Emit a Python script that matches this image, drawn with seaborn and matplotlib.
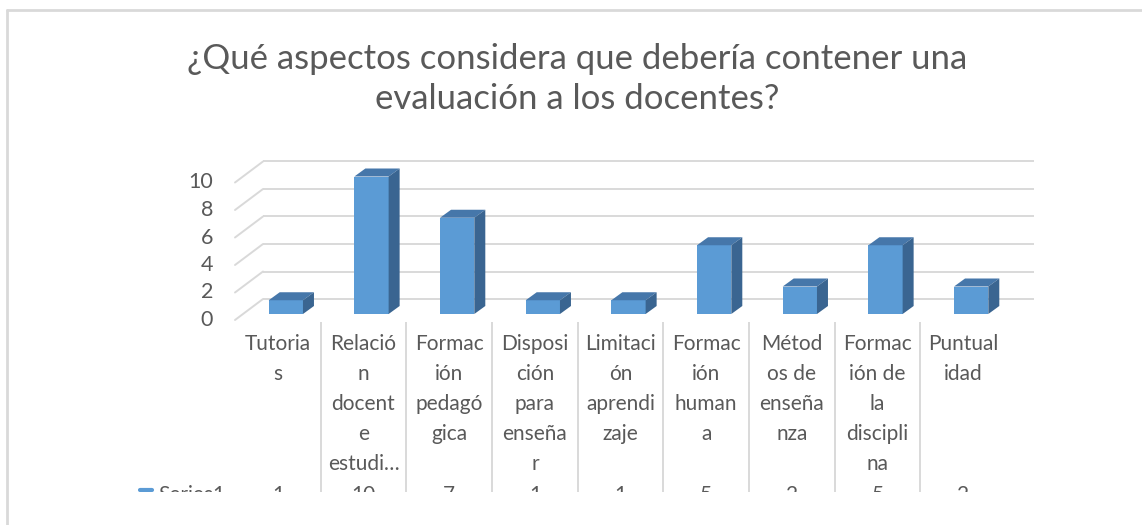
import matplotlib
matplotlib.use("Agg")
import matplotlib.pyplot as plt
from matplotlib.patches import Polygon, Rectangle
from matplotlib.lines import Line2D
import seaborn as sns
import pandas as pd

# ---- data ----
categories = ["Tutorias", "Relación docente estudiante", "Formación pedagógica",
              "Disposición para enseñar", "Limitación aprendizaje", "Formación humana",
              "Métodos de enseñanza", "Formación de la disciplina", "Puntualidad"]
tick_labels = ["Tutoria\ns", "Relació\nn\ndocent\ne\nestudi…", "Formac\nión\npedagó\ngica",
               "Disposi\nción\npara\nenseña\nr", "Limitaci\nón\naprendi\nzaje",
               "Formac\nión\nhuman\na", "Métod\nos de\nenseña\nnza",
               "Formac\nión de\nla\ndiscipli\nna", "Puntual\nidad"]
values = [1, 10, 7, 1, 1, 5, 2, 5, 2]
y_ticks = [0, 2, 4, 6, 8, 10]
series_name = "Series1"
title = "¿Qué aspectos considera que debería contener una\nevaluación a los docentes?"

W, H = 1142, 525
FRONT = "#5B9BD5"
TOP = "#4677AA"
SIDE = "#3A6591"
GRID = "#D9D9D9"
TXT = "#595959"
FONT = "Lato"

sns.set_theme(style="white")
plt.rcParams['font.family'] = [FONT, 'DejaVu Sans']

fig = plt.figure(figsize=(W / 100, H / 100), dpi=100)
fig.patch.set_facecolor("white")

def fx(px):
    return px / W

def fy(py):
    return 1 - py / H

# bar plane axes
ax_left, ax_right, ax_base, ax_top = 243, 1014, 314, 176.5
ax = fig.add_axes([fx(ax_left), fy(ax_base), (ax_right - ax_left) / W, (ax_base - ax_top) / H])
df = pd.DataFrame({"cat": categories, "val": values})
sns.barplot(data=df, x="cat", y="val", color=FRONT, saturation=1, width=0.4, ax=ax, zorder=3)
ax.set_xlim(-0.5, len(categories) - 0.5)
ax.set_ylim(0, max(y_ticks))
ax.axis("off")

pxx = (ax_right - ax_left) / len(categories)      # pixels per x unit
pxy = (ax_base - ax_top) / max(y_ticks)            # pixels per y unit

# 3D faces
dx, dy = 11 / pxx, 8 / pxy
for p in list(ax.patches):
    x0, w, h = p.get_x(), p.get_width(), p.get_height()
    x1 = x0 + w
    p.set_edgecolor("none")
    ax.add_patch(Polygon([(x0, h), (x1, h), (x1 + dx, h + dy), (x0 + dx, h + dy)],
                         closed=True, facecolor=TOP, edgecolor="none", zorder=3, clip_on=False))
    ax.add_patch(Polygon([(x1, 0), (x1, h), (x1 + dx, h + dy), (x1 + dx, dy)],
                         closed=True, facecolor=SIDE, edgecolor="none", zorder=3, clip_on=False))

# back wall grid + floor diagonals
back_dx, back_dy = 20 / pxx, 15 / pxy
front_dx, front_dy = -8 / pxx, -6 / pxy
xl = -0.5
xr = len(categories) - 0.5
for v in y_ticks:
    ax.plot([xl + back_dx, xr + back_dx], [v + back_dy, v + back_dy], color=GRID, lw=1.4,
            zorder=1, clip_on=False, solid_capstyle="butt")
    ax.plot([xl + front_dx, xl + back_dx], [v + front_dy, v + back_dy], color=GRID, lw=1.4,
            zorder=1, clip_on=False)
    ax.text(xl + front_dx - 22 / pxx, v + front_dy, str(v), ha="right", va="center",
            fontsize=15.5, color=TXT, clip_on=False)

# data table axes
tab_left, tab_right, tab_top, tab_bot = 235, 1006, 322, 492
tax = fig.add_axes([fx(tab_left), fy(tab_bot), (tab_right - tab_left) / W, (tab_bot - tab_top) / H])
tax.set_xlim(-0.5, len(categories) - 0.5)
tax.set_ylim(tab_bot - tab_top, 0)
tax.axis("off")
for k in range(1, len(categories)):
    tax.plot([k - 0.5, k - 0.5], [0, tab_bot - tab_top], color=GRID, lw=1.4, zorder=1)
for i, (lab, v) in enumerate(zip(tick_labels, values)):
    tax.text(i, 12, lab, ha="center", va="top", fontsize=15, color=TXT, linespacing=1.63)
    tax.text(i, 163, str(v), ha="center", va="top", fontsize=15, color=TXT, clip_on=False)
tax.plot([-0.5 - 95 / pxx, -0.5 - 83 / pxx], [168, 168], color=FRONT, lw=3, clip_on=False)
tax.text(-0.5 - 77 / pxx, 163, series_name, ha="left", va="top", fontsize=15, color=TXT,
         clip_on=False)

# title
fig.text(fx(577), fy(79), title, ha="center", va="center", fontsize=25, color=TXT,
         linespacing=1.3)

# clip strip at bottom and border
fig.add_artist(Rectangle((fx(9), 0), 1, fy(492), transform=fig.transFigure,
                         facecolor="white", edgecolor="none", zorder=10))
fig.add_artist(Line2D([fx(7), fx(7)], [0, fy(10)], color=GRID, lw=2, zorder=11))
fig.add_artist(Line2D([fx(7), 1], [fy(10), fy(10)], color=GRID, lw=2, zorder=11))

fig.savefig("out.png", dpi=100, facecolor="white")
